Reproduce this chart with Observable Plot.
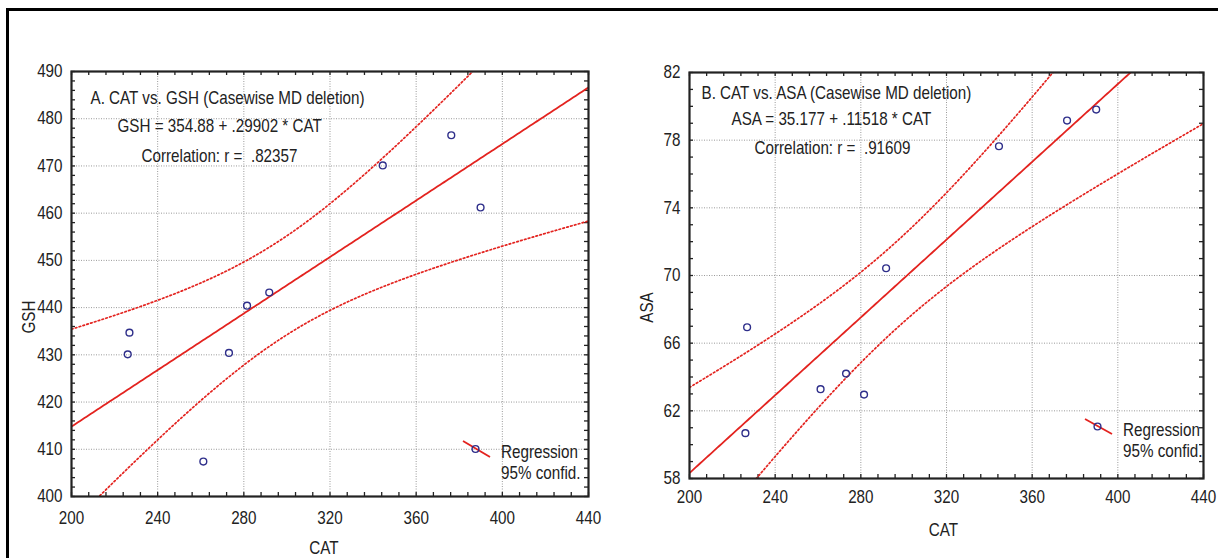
<!DOCTYPE html>
<html><head><meta charset="utf-8">
<script src="https://cdn.jsdelivr.net/npm/d3@7"></script>
<script src="https://cdn.jsdelivr.net/npm/@observablehq/plot@0.6"></script>
<style>
body{margin:0;background:#fff;}
#wrap{position:relative;width:1218px;height:558px;overflow:hidden;font-family:"Liberation Sans",Arial,sans-serif;color:#222;}
#border{position:absolute;left:6px;top:8px;width:1240px;height:600px;border-top:3px solid #000;border-left:3px solid #000;}
.panel{position:absolute;top:0;}
.legend{position:absolute;overflow:visible;}
.legend text{font-family:"Liberation Sans",Arial,sans-serif;font-size:18px;fill:#222;}
</style></head><body>
<div id="wrap">
  <div id="border"></div>
  <div id="left" class="panel" style="left:0px"></div>
  <div id="right" class="panel" style="left:620px"></div>
</div>
<script>
// ---- data ----
const cat = [226.9, 226.1, 261.2, 273.1, 281.5, 291.8, 344.5, 376.3, 389.9];
const gsh = [434.7, 430.1, 407.4, 430.4, 440.4, 443.2, 470.1, 476.5, 461.2];
const asa = [66.94, 60.68, 63.28, 64.20, 62.96, 70.43, 77.64, 79.16, 79.81];

const xTicks = [200, 240, 280, 320, 360, 400, 440];
const gshTicks = [400, 410, 420, 430, 440, 450, 460, 470, 480, 490];
const asaTicks = [58, 62, 66, 70, 74, 78, 82];

const titleA = ["A. CAT vs. GSH (Casewise MD deletion)", "GSH = 354.88 + .29902 * CAT", "Correlation: r =  .82357"];
const titleB = ["B. CAT vs. ASA (Casewise MD deletion)", "ASA = 35.177 + .11518 * CAT", "Correlation: r =  .91609"];
const legendLabels = ["Regression", "95% confid."];
const T975_DF7 = 2.364624; // Student t quantile, 95% two-sided, n-2 = 7

const RED = "#e3231f", NAVY = "#2e2e8a", GRID = "#9a9a9a", FRAME = "#222";
const FONT = '"Liberation Sans",Arial,sans-serif';
const NARROW = 0.845; // horizontal condensing of the text, as in the reference

function fit(xs, ys) {
  const n = xs.length, mx = d3.mean(xs), my = d3.mean(ys);
  let sxx = 0, sxy = 0;
  xs.forEach((x, i) => { sxx += (x - mx) ** 2; sxy += (x - mx) * (ys[i] - my); });
  const b = sxy / sxx, a = my - b * mx;
  const ssr = d3.sum(xs, (x, i) => (ys[i] - (a + b * x)) ** 2);
  const s = Math.sqrt(ssr / (n - 2));
  return {a, b, s, mx, sxx, n};
}

function condense(svg) {
  svg.querySelectorAll("text").forEach(el => {
    const t = el.getAttribute("transform") || "";
    const x = +el.getAttribute("x") || 0;
    el.setAttribute("transform", `${t} translate(${x},0) scale(${NARROW},1) translate(${-x},0)`);
  });
  return svg;
}

function panel(o) {
  const f = fit(cat, o.ys);
  const curve = d3.range(o.xDomain[0], o.xDomain[1] + 0.001, 1).map(x => {
    const yh = f.a + f.b * x;
    const h = T975_DF7 * f.s * Math.sqrt(1 / f.n + (x - f.mx) ** 2 / f.sxx);
    return {x, y: yh, lo: yh - h, hi: yh + h};
  });
  const pts = cat.map((c, i) => ({x: c, y: o.ys[i]}));
  const fw = o.width - o.ml - o.mr, fh = o.height - o.mt - o.mb;
  const minorX = d3.range(o.xDomain[0], o.xDomain[1] + 0.001, o.xMinor);
  const minorY = d3.range(o.yDomain[0], o.yDomain[1] + 0.001, o.yMinor);
  const txt = (s, dx, dy) => Plot.text([s], {text: d => d, frameAnchor: "top-left", dx, dy, textAnchor: "start", lineAnchor: "top", fontSize: 18, fill: "#222"});
  const svg = Plot.plot({
    width: o.width, height: o.height,
    marginLeft: o.ml, marginRight: o.mr, marginTop: o.mt, marginBottom: o.mb,
    style: {fontFamily: FONT, fontSize: "18px", color: "#222", background: "transparent"},
    x: {domain: o.xDomain},
    y: {domain: o.yDomain},
    marks: [
      Plot.gridX(xTicks, {stroke: GRID, strokeOpacity: 1, strokeDasharray: "1,1.5"}),
      Plot.gridY(o.yTicks, {stroke: GRID, strokeOpacity: 1, strokeDasharray: "1,1.5"}),
      Plot.tickX(minorX, {insetTop: fh - 4, stroke: FRAME, strokeWidth: 1.3}),
      Plot.tickX(minorX, {insetBottom: fh - 4, stroke: FRAME, strokeWidth: 1.3}),
      Plot.tickY(minorY, {insetRight: fw - 4, stroke: FRAME, strokeWidth: 1.3}),
      Plot.tickY(minorY, {insetLeft: fw - 4, stroke: FRAME, strokeWidth: 1.3}),
      Plot.line(curve, {x: "x", y: "hi", stroke: RED, strokeWidth: 1.7, strokeDasharray: "1.6,2.4", clip: true}),
      Plot.line(curve, {x: "x", y: "lo", stroke: RED, strokeWidth: 1.7, strokeDasharray: "1.6,2.4", clip: true}),
      Plot.line(curve, {x: "x", y: "y", stroke: RED, strokeWidth: 1.8, clip: true}),
      Plot.dot(pts, {x: "x", y: "y", r: 3.4, stroke: NAVY, strokeWidth: 1.4, fill: "none"}),
      Plot.frame({stroke: FRAME, strokeWidth: 2.2}),
      Plot.axisX({ticks: xTicks, tickSize: 0, tickPadding: o.xPad, fontSize: 18, label: null}),
      Plot.axisY({ticks: o.yTicks, tickSize: 0, tickPadding: 9, fontSize: 18, label: null}),
      txt(o.title[0], o.t[0][0], o.t[0][1]),
      txt(o.title[1], o.t[1][0], o.t[1][1]),
      txt(o.title[2], o.t[2][0], o.t[2][1]),
      Plot.text(["CAT"], {text: d => d, frameAnchor: "bottom", dx: o.xl[0], dy: o.xl[1], lineAnchor: "middle", fontSize: 18}),
      Plot.text([o.yName], {text: d => d, frameAnchor: "left", dx: o.yl[0], dy: o.yl[1], rotate: -90, lineAnchor: "middle", textAnchor: "middle", fontSize: 18})
    ]
  });
  return condense(svg);
}

function legend(left, top, lineEnd) {
  const svg = d3.create("svg").attr("class", "legend").attr("width", 150).attr("height", 55)
    .style("left", left + "px").style("top", top + "px");
  svg.append("line").attr("x1", 8).attr("y1", 6).attr("x2", 35).attr("y2", lineEnd)
    .attr("stroke", RED).attr("stroke-width", 1.8);
  svg.append("circle").attr("cx", 20.5).attr("cy", (6 + lineEnd) / 2).attr("r", 3.4)
    .attr("fill", "none").attr("stroke", NAVY).attr("stroke-width", 1.4);
  legendLabels.forEach((s, i) => svg.append("text").attr("x", 46).attr("y", 23 + 21 * i)
    .attr("transform", `translate(46,0) scale(${NARROW},1) translate(-46,0)`).text(s));
  return svg.node();
}

document.getElementById("left").append(panel({
  ys: gsh, yName: "GSH", title: titleA,
  width: 620, height: 558, ml: 71, mr: 32, mt: 71, mb: 62,
  xDomain: [200, 440], yDomain: [400, 490], yTicks: gshTicks,
  xMinor: 8, yMinor: 2, xPad: 15,
  t: [[19, 20], [46, 48], [70, 78]],
  xl: [-6, 52], yl: [-42, 33]
}));
document.getElementById("right").append(panel({
  ys: asa, yName: "ASA", title: titleB,
  width: 598, height: 558, ml: 69, mr: 15, mt: 72, mb: 80,
  xDomain: [200, 440], yDomain: [58, 82], yTicks: asaTicks,
  xMinor: 8, yMinor: 1, xPad: 12,
  t: [[12, 14], [42, 40], [65, 69]],
  xl: [-3, 52], yl: [-42, 32]
}));
const wrap = document.getElementById("wrap");
wrap.append(legend(455, 435, 22));
wrap.append(legend(1077, 413, 21));
</script>
</body></html>
